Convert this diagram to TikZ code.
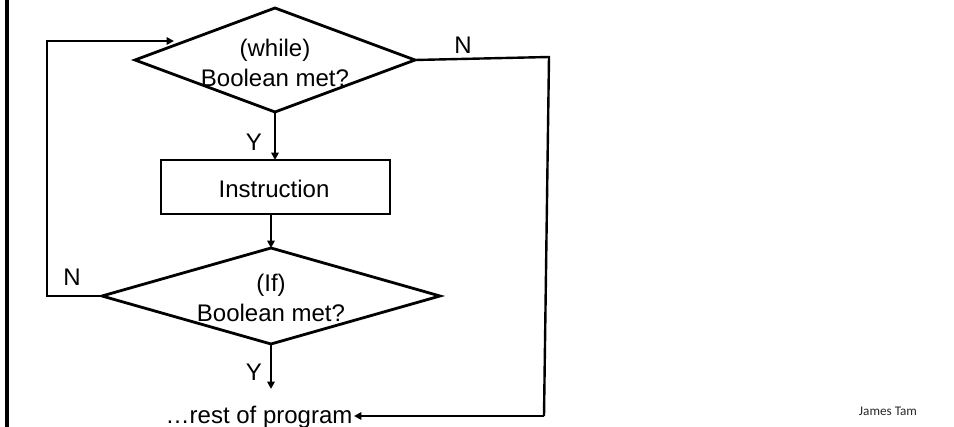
\documentclass[tikz,border=0pt]{standalone}
\usepackage{fontspec}
\setmainfont{Liberation Sans}
\newfontfamily\smallfont{Carlito}
\usetikzlibrary{shapes.geometric,arrows.meta}
\tikzset{
  px/.style={x=0.75pt,y=-0.75pt},
  decision/.style={draw,diamond,line width=2.1pt,inner sep=0pt,outer sep=0pt},
  procbox/.style={draw,rectangle,line width=2.1pt,inner sep=0pt,outer sep=0pt},
  txt/.style={font=\fontsize{18}{22}\selectfont,align=center,inner sep=0pt},
  conn/.style={line width=1.8pt},
  arr/.style={conn,-{Triangle[length=5.5pt,width=5.5pt]}},
  lbl/.style={font=\fontsize{18}{22}\selectfont,inner sep=0pt},
}
\begin{document}
\begin{tikzpicture}[px]
\useasboundingbox (0,0) rectangle (954,427);
% left bar
\draw[line width=2.6pt] (7,0) -- (7,427);
% while diamond
\node[decision,minimum width=280*0.75pt,minimum height=104*0.75pt] (w) at (275,60) {};
\node[txt] (wt) at (275,63) {(while)\\Boolean met?};
% instruction box
\node[procbox,minimum width=229*0.75pt,minimum height=54*0.75pt] (ins) at (275.5,187) {};
\node[txt] (it) at (274,189) {Instruction};
% if diamond
\node[decision,minimum width=338*0.75pt,minimum height=96*0.75pt] (if) at (271,296) {};
\node[txt] (ift) at (271,298) {(If)\\Boolean met?};
% rest of program
\node[txt,anchor=east,inner sep=1pt] (rest) at (354,417) {…rest of program};
% coordinates
\coordinate (loopL) at (47,296);
\coordinate (loopT) at (47,41);
\coordinate (loopEnd) at (174,41);
\coordinate (r1) at (549,57);
\coordinate (r2) at (544,416);
\coordinate (yEnd) at (271,389);
% connectors
\draw[arr] (w.south) -- (w.south |- ins.north);
\draw[arr] (ins.south -| if.north) -- (if.north);
\draw[arr] (if.south) -- (yEnd);
\draw[arr] (if.west) -- (loopL) -- (loopT) -- (loopEnd);
\draw[conn] (w.east) -- (r1) -- (r2);
\draw[arr] (r2) -- (rest.east |- r2);
% labels
\node[lbl] (n1) at (463,45) {N};
\node[lbl] (y1) at (254,142) {Y};
\node[lbl] (n2) at (72,277) {N};
\node[lbl] (y2) at (254,372) {Y};
\node[font=\smallfont\fontsize{9.9}{12}\selectfont,inner sep=0pt,text=black!85] (jt) at (888,411) {James Tam};
\end{tikzpicture}
\end{document}
